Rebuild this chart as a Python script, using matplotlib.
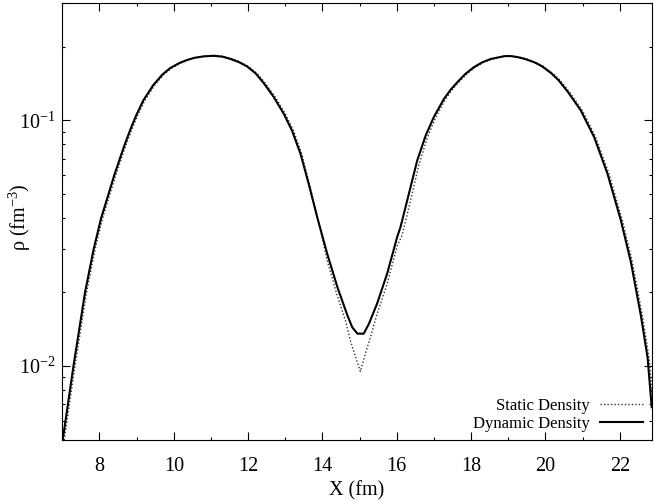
import matplotlib
matplotlib.use("Agg")
import matplotlib.pyplot as plt
from matplotlib.ticker import LogLocator, FixedLocator, NullFormatter, MultipleLocator

# density profiles (x in fm, rho in fm^-3)
dyn_x = [7.01, 7.30, 7.61, 7.84, 8.04, 8.24, 8.40, 8.56, 8.67, 8.78, 8.87,
         9.00, 9.18, 9.45, 9.70, 9.90, 10.15, 10.35, 10.55, 10.80, 11.07,
         11.30, 11.52, 11.75, 11.97, 12.20, 12.42, 12.69, 12.96, 13.18, 13.41,
         13.63, 13.86, 14.13, 14.40, 14.67, 14.80, 14.94, 15.11, 15.25, 15.47,
         15.74, 16.01, 16.10, 16.37, 16.55, 16.78, 17.00, 17.27, 17.45, 17.63,
         17.85, 18.08, 18.30, 18.53, 18.89, 19.05, 19.25, 19.45, 19.70, 19.90,
         20.15, 20.35, 20.60, 20.95, 21.31, 21.67, 22.03, 22.30, 22.57, 22.75,
         22.86]
dyn_rho = [0.0050, 0.0100, 0.0199, 0.0298, 0.0398, 0.0500, 0.0600, 0.0708, 0.0791, 0.0877, 0.0951,
           0.1059, 0.1208, 0.1396, 0.1542, 0.1633, 0.1714, 0.1762, 0.1799, 0.1824, 0.1834,
           0.1820, 0.1782, 0.1729, 0.1660, 0.1556, 0.1419, 0.1245, 0.1064, 0.0910, 0.0731,
           0.0552, 0.0403, 0.0286, 0.0210, 0.0161, 0.0144, 0.01355, 0.01355, 0.01486, 0.01795,
           0.02377, 0.0335, 0.0368, 0.0535, 0.0687, 0.0870, 0.1035, 0.1225, 0.1335, 0.1432,
           0.1550, 0.1650, 0.1725, 0.1780, 0.1827, 0.1830, 0.1812, 0.1780, 0.1726, 0.1665,
           0.1560, 0.1460, 0.1310, 0.1100, 0.0856, 0.0607, 0.0392, 0.0265, 0.0160, 0.0108,
           0.0068]

stat_x = [7.05, 7.34, 7.65, 7.88, 8.08, 8.28, 8.44, 8.60, 8.71, 8.82, 8.91,
          9.04, 9.22, 9.49, 9.74, 9.94, 10.19, 10.39, 10.59, 10.84, 11.11,
          11.34, 11.56, 11.79, 12.01, 12.24, 12.46, 12.73, 13.00, 13.22, 13.45,
          13.67, 13.90, 14.13, 14.40, 14.62, 14.75, 14.89, 15.02, 15.16, 15.29,
          15.47, 15.74, 16.01, 16.14, 16.41, 16.59, 16.82, 17.04, 17.31, 17.49,
          17.67, 17.89, 18.12, 18.34, 18.57, 18.93, 19.09, 19.29, 19.49, 19.74,
          19.94, 20.19, 20.39, 20.64, 20.99, 21.35, 21.71, 22.07, 22.34, 22.61,
          22.79, 22.90]
stat_rho = [0.0050, 0.0100, 0.0199, 0.0298, 0.0398, 0.0500, 0.0600, 0.0708, 0.0791, 0.0877, 0.0951,
            0.1059, 0.1208, 0.1396, 0.1542, 0.1633, 0.1714, 0.1762, 0.1799, 0.1826, 0.1838,
            0.1824, 0.1786, 0.1729, 0.1660, 0.1556, 0.1419, 0.1245, 0.1064, 0.0910, 0.0725,
            0.0535, 0.0385, 0.0268, 0.0193, 0.0153, 0.0127, 0.0109, 0.0095, 0.0113, 0.0131,
            0.0163, 0.0216, 0.0308, 0.0340, 0.0500, 0.0655, 0.0850, 0.1025, 0.1220, 0.1335,
            0.1432, 0.1550, 0.1650, 0.1725, 0.1780, 0.1830, 0.1833, 0.1812, 0.1780, 0.1726,
            0.1665, 0.1560, 0.1460, 0.1310, 0.1100, 0.0856, 0.0607, 0.0392, 0.0265, 0.0160,
            0.0108, 0.0068]

plt.rcParams['font.family'] = ['Liberation Serif', 'DejaVu Serif']
plt.rcParams['mathtext.fontset'] = 'custom'
plt.rcParams['mathtext.rm'] = 'Liberation Serif'
plt.rcParams['mathtext.it'] = 'Liberation Serif:italic'
plt.rcParams['font.size'] = 14.5

fig = plt.figure(figsize=(6.54, 5.01), dpi=100)
ax = fig.add_axes([0.0953, 0.1218, 0.9012, 0.8716])

ax.plot(stat_x, stat_rho, color='#333333', lw=1.0, linestyle=(0, (1, 1.5)),
        label='Static Density')
ax.plot(dyn_x, dyn_rho, color='black', lw=1.5, label='Dynamic Density')

ax.set_yscale('log')
ax.set_xlim(7, 22.86)
ax.set_ylim(0.005, 0.3)

ax.xaxis.set_major_locator(MultipleLocator(2))
ax.xaxis.set_minor_locator(MultipleLocator(1))
ax.yaxis.set_major_locator(FixedLocator([0.01, 0.1]))
ax.yaxis.set_minor_locator(LogLocator(base=10, subs=range(2, 10)))
ax.yaxis.set_minor_formatter(NullFormatter())
ax.set_yticklabels(['10$^{-2}$', '10$^{-1}$'])

ax.tick_params(which='both', direction='in', top=True, right=True, width=0.8)
ax.tick_params(which='major', length=5.5)
ax.tick_params(which='minor', length=2.5)
ax.tick_params(axis='x', which='both', pad=12)
ax.tick_params(axis='y', which='both', pad=5)
for s in ax.spines.values():
    s.set_linewidth(0.8)

ax.set_xlabel('X (fm)', labelpad=4)
ax.set_ylabel('ρ (fm$^{-3}$)')
ax.yaxis.set_label_coords(-0.05, 0.51)

ax.legend(loc='lower right', frameon=False, markerfirst=False, fontsize=12,
          handlelength=2.6, handletextpad=0.6, labelspacing=0.1,
          borderaxespad=0.3, borderpad=0.2)

fig.savefig('out.png', dpi=100)
